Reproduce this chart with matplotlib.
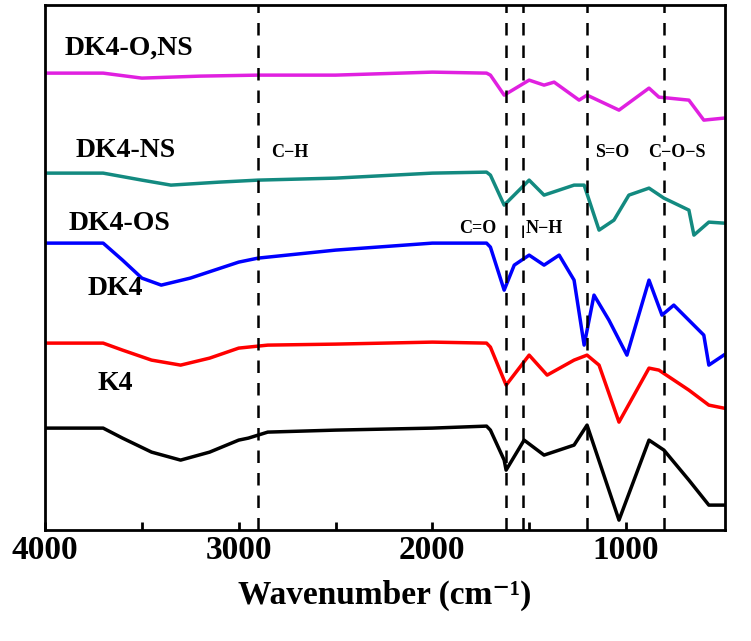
import matplotlib.pyplot as plt

# FTIR spectra, values (offset units, higher = upper in plot)
k4_x = [4000, 3700, 3600, 3450, 3300, 3150, 3000, 2950, 2850, 2500, 2000, 1720, 1700, 1629, 1619, 1526, 1423, 1268, 1201, 1036, 881, 804, 675, 572, 495]
k4_y = [102, 102, 92, 78, 70, 78, 90, 92, 98, 100, 102, 104, 100, 70, 60, 90, 75, 85, 105, 10, 90, 80, 50, 25, 25]

dk4_x = [4000, 3700, 3600, 3450, 3300, 3150, 3000, 2850, 2500, 2000, 1720, 1700, 1619, 1500, 1407, 1268, 1201, 1139, 1036, 881, 830, 675, 572, 495]
dk4_y = [187, 187, 180, 170, 165, 172, 182, 185, 186, 188, 187, 183, 145, 175, 155, 170, 175, 165, 108, 162, 160, 140, 125, 122]

dk4os_x = [4000, 3700, 3600, 3500, 3400, 3250, 3000, 2900, 2500, 2000, 1720, 1700, 1629, 1577, 1500, 1423, 1345, 1268, 1216, 1165, 1088, 995, 881, 814, 753, 598, 572, 495]
dk4os_y = [287, 287, 270, 252, 245, 252, 268, 272, 280, 287, 287, 283, 240, 265, 275, 265, 275, 250, 185, 235, 210, 175, 250, 215, 225, 195, 165, 175]

dk4ns_x = [4000, 3700, 3500, 3350, 3100, 2900, 2500, 2000, 1720, 1700, 1629, 1500, 1423, 1268, 1216, 1139, 1062, 985, 881, 804, 675, 649, 572, 495]
dk4ns_y = [357, 357, 350, 345, 348, 350, 352, 357, 358, 355, 325, 350, 335, 345, 345, 300, 310, 335, 342, 332, 320, 295, 308, 307]

dk4ons_x = [4000, 3700, 3500, 3200, 2900, 2500, 2000, 1720, 1700, 1629, 1500, 1423, 1371, 1242, 1201, 1036, 881, 830, 675, 598, 495]
dk4ons_y = [457, 457, 452, 454, 455, 455, 458, 457, 455, 435, 450, 445, 448, 430, 435, 420, 442, 433, 430, 410, 412]

series = [(k4_x, k4_y, 'black'), (dk4_x, dk4_y, 'red'), (dk4os_x, dk4os_y, 'blue'),
          (dk4ns_x, dk4ns_y, '#138a80'), (dk4ons_x, dk4ons_y, '#e020e0')]

names = ['K4', 'DK4', 'DK4-OS', 'DK4-NS', 'DK4-O,NS']
name_x = [3730, 3780, 3880, 3845, 3900]
name_y = [147, 242, 307, 380, 482]

bands = [2900, 1620, 1530, 1200, 805]
band_labels = ['C\u2212H', 'C=O', 'N\u2212H', 'S=O', 'C\u2212O\u2212S']
band_lx = [2737, 1768, 1423, 1070, 737]
band_ly = [378, 302, 302, 378, 378]

plt.rcParams['font.family'] = ['Liberation Serif', 'DejaVu Serif']
fig = plt.figure(figsize=(7.51, 6.41), dpi=100)
ax = fig.add_axes([0.06, 0.173, 0.905, 0.819])

for x, y, c in series:
    ax.plot(x, y, color=c, lw=2.5)

for b in bands:
    ax.axvline(b, color='black', ls=(0, (5, 4)), lw=1.8)

for n, x, y in zip(names, name_x, name_y):
    ax.text(x, y, n, fontsize=20, fontweight='bold', ha='left', va='center')
for t, x, y in zip(band_labels, band_lx, band_ly):
    ax.text(x, y, t, fontsize=13, fontweight='bold', ha='center', va='center',
            bbox=dict(facecolor='white', edgecolor='none', pad=1))

ax.set_xlim(4000, 490)
ax.set_ylim(0, 525)
ax.set_yticks([])
ax.set_xticks([4000, 3000, 2000, 1000])
ax.set_xticks([3500, 2500, 1500], minor=True)
ax.tick_params(axis='x', which='both', direction='in', length=6, width=2, labelsize=24)
for lab in ax.get_xticklabels():
    lab.set_fontweight('bold')
for s in ax.spines.values():
    s.set_linewidth(2)
ax.set_xlabel('Wavenumber (cm\u207b\u00b9)', fontsize=24, fontweight='bold', labelpad=10)

fig.savefig('out.png', dpi=100)
